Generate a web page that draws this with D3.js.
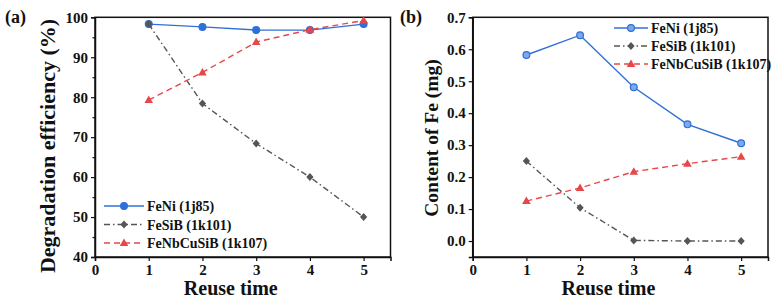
<!DOCTYPE html>
<html>
<head>
<meta charset="utf-8">
<script src="https://cdn.jsdelivr.net/npm/d3@7"></script>
<style>
  body { margin: 0; background: #fff; }
</style>
</head>
<body>
<div id="chart"></div>
<script>
//// data
var reuse = [1, 2, 3, 4, 5];
var seriesNames = ["FeNi (1j85)", "FeSiB (1k101)", "FeNbCuSiB (1k107)"];

var degFeNi = [98.3, 97.6, 96.8, 96.8, 98.3];
var degFeSiB = [98.3, 78.4, 68.4, 60.0, 50.0];
var degFeNbCuSiB = [79.3, 86.2, 93.8, 96.9, 99.2];

var feFeNi = [0.582, 0.644, 0.481, 0.365, 0.306];
var feFeSiB = [0.250, 0.104, 0.002, 0.0, 0.0];
var feFeNbCuSiB = [0.125, 0.166, 0.217, 0.242, 0.264];

var xTicks = [0, 1, 2, 3, 4, 5];
var yTicksA = [40, 50, 60, 70, 80, 90, 100];
var yTicksB = [0.0, 0.1, 0.2, 0.3, 0.4, 0.5, 0.6, 0.7];

var FONT = "'Liberation Serif', 'Times New Roman', Times, serif";

//// styles per series
var styles = [
  {color: "#2f6fd8", dash: null, marker: "circle"},
  {color: "#555555", dash: "6,3,1.5,3", marker: "diamond"},
  {color: "#e8474a", dash: "6,4", marker: "triangle"}
];

var svg = d3.select("#chart").append("svg")
  .attr("width", 775)
  .attr("height", 302);

function txt(sel, size) {
  return sel.attr("font-family", null)
    .style("font-family", FONT)
    .style("font-weight", "bold")
    .style("font-size", size + "px")
    .attr("fill", "#111");
}

function drawPanel(opt) {
  var x = d3.scaleLinear().domain([0, 5.5]).range([opt.left, opt.right]);
  var y = d3.scaleLinear().domain(opt.yDomain).range([opt.bottom, opt.top]);
  var g = svg.append("g");

  // frame
  g.append("rect")
    .attr("x", opt.left).attr("y", opt.top)
    .attr("width", opt.right - opt.left).attr("height", opt.bottom - opt.top)
    .attr("fill", "none").attr("stroke", "#111").attr("stroke-width", 1.5);

  // minor y ticks
  if (opt.minor) {
    g.append("g")
      .attr("transform", "translate(" + opt.left + ",0)")
      .call(d3.axisLeft(y).tickValues(opt.minor).tickSize(2.5).tickFormat(""))
      .call(a => a.select(".domain").remove())
      .selectAll("line").attr("stroke", "#111").attr("stroke-width", 1.2);
  }

  var xa = g.append("g")
    .attr("transform", "translate(0," + opt.bottom + ")")
    .call(d3.axisBottom(x).tickValues(xTicks).tickSize(4).tickPadding(3).tickFormat(d3.format("d")));
  xa.attr("font-family", null);
  xa.select(".domain").attr("stroke", "#111").attr("stroke-width", 1.5);
  xa.selectAll("line").attr("stroke", "#111").attr("stroke-width", 1.2);
  txt(xa.selectAll("text"), 15);

  var ya = g.append("g")
    .attr("transform", "translate(" + opt.left + ",0)")
    .call(d3.axisLeft(y).tickValues(opt.yTicks).tickSize(4).tickPadding(3).tickFormat(opt.fmt));
  ya.attr("font-family", null);
  ya.select(".domain").attr("stroke", "#111").attr("stroke-width", 1.5);
  ya.selectAll("line").attr("stroke", "#111").attr("stroke-width", 1.2);
  txt(ya.selectAll("text"), 15);

  // titles
  txt(g.append("text")
    .attr("x", (opt.left + opt.right) / 2 - 12).attr("y", 295)
    .attr("text-anchor", "middle")
    .text("Reuse time"), 20);
  txt(g.append("text")
    .attr("transform", "translate(" + opt.yTitleX + "," + opt.yTitleY + ") rotate(-90)")
    .attr("text-anchor", "middle")
    .text(opt.yTitle), opt.yTitleSize);
  txt(g.append("text")
    .attr("x", opt.labelX).attr("y", 23)
    .text(opt.label), 18);

  // series
  opt.data.forEach(function (vals, i) {
    var st = styles[i];
    var pts = reuse.map((r, j) => [x(r), y(vals[j])]);
    g.append("path")
      .attr("d", d3.line()(pts))
      .attr("fill", "none")
      .attr("stroke", st.color)
      .attr("stroke-width", 1.4)
      .attr("stroke-dasharray", st.dash);
    pts.forEach(function (p) { drawMarker(g, st, p[0], p[1], opt.open && i === 0); });
  });

  // legend
  seriesNames.forEach(function (name, i) {
    var st = styles[i];
    var ly = opt.legY + i * opt.legStep;
    g.append("line")
      .attr("x1", opt.legX).attr("x2", opt.legX + opt.legLen)
      .attr("y1", ly).attr("y2", ly)
      .attr("stroke", st.color).attr("stroke-width", 1.4)
      .attr("stroke-dasharray", st.dash);
    drawMarker(g, st, opt.legX + opt.legLen / 2, ly, opt.open && i === 0);
    txt(g.append("text")
      .attr("x", opt.legX + opt.legLen + 3).attr("y", ly + 5)
      .text(name), 14);
  });
}

function drawMarker(g, st, cx, cy, open) {
  if (st.marker === "circle") {
    g.append("circle").attr("cx", cx).attr("cy", cy).attr("r", 3.4)
      .attr("fill", open ? "#7fa8e8" : st.color)
      .attr("stroke", st.color).attr("stroke-width", 1.2);
  } else if (st.marker === "diamond") {
    g.append("path")
      .attr("d", "M" + cx + "," + (cy - 4) + "L" + (cx + 3.6) + "," + cy + "L" + cx + "," + (cy + 4) + "L" + (cx - 3.6) + "," + cy + "Z")
      .attr("fill", st.color);
  } else {
    g.append("path")
      .attr("d", "M" + cx + "," + (cy - 4.5) + "L" + (cx + 4.3) + "," + (cy + 3) + "L" + (cx - 4.3) + "," + (cy + 3) + "Z")
      .attr("fill", st.color);
  }
}

//// panel a
drawPanel({
  left: 95, right: 390.5, top: 17.3, bottom: 257,
  yDomain: [40, 100], yTicks: yTicksA, minor: [45, 55, 65, 75, 85, 95],
  fmt: d3.format("d"),
  yTitle: "Degradation efficiency (%)", yTitleX: 55, yTitleY: 146, yTitleSize: 22,
  label: "(a)", labelX: 5,
  data: [degFeNi, degFeSiB, degFeNbCuSiB], open: false,
  legX: 104, legLen: 40, legY: 206, legStep: 18.5
});

//// panel b
drawPanel({
  left: 472.7, right: 768, top: 17.3, bottom: 257,
  yDomain: [-0.05, 0.7], yTicks: yTicksB, minor: null,
  fmt: d3.format(".1f"),
  yTitle: "Content of Fe (mg)", yTitleX: 438, yTitleY: 138, yTitleSize: 19.5,
  label: "(b)", labelX: 400,
  data: [feFeNi, feFeSiB, feFeNbCuSiB], open: true,
  legX: 614, legLen: 34, legY: 28, legStep: 18
});
</script>
</body>
</html>
